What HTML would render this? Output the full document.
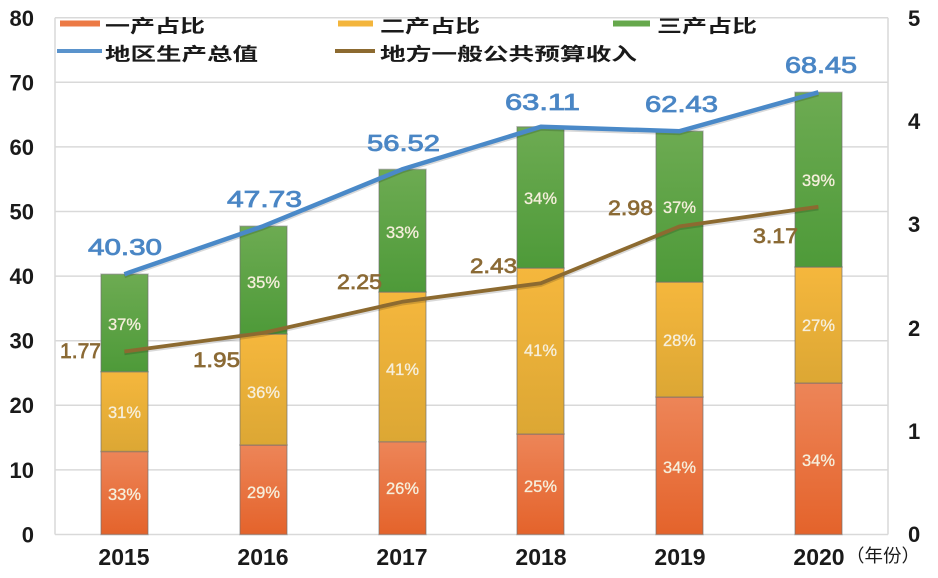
<!DOCTYPE html>
<html>
<head>
<meta charset="utf-8">
<style>
html,body{margin:0;padding:0;background:#fff;}
svg{display:block;}
</style>
</head>
<body>
<svg width="938" height="578" viewBox="0 0 938 578" xmlns="http://www.w3.org/2000/svg">
<defs>
<linearGradient id="gO" x1="0" y1="0" x2="0" y2="1">
<stop offset="0" stop-color="#ed8558"/><stop offset="1" stop-color="#e4632b"/>
</linearGradient>
<linearGradient id="gY" x1="0" y1="0" x2="0" y2="1">
<stop offset="0" stop-color="#f5b73d"/><stop offset="1" stop-color="#dca734"/>
</linearGradient>
<linearGradient id="gG" x1="0" y1="0" x2="0" y2="1">
<stop offset="0" stop-color="#6dab52"/><stop offset="1" stop-color="#4e9a39"/>
</linearGradient>
</defs>

<!-- gridlines -->
<g stroke="#d9d9d9" stroke-width="1.5">
<line x1="55" y1="17.7" x2="888" y2="17.7"/>
<line x1="55" y1="82.3" x2="888" y2="82.3"/>
<line x1="55" y1="146.9" x2="888" y2="146.9"/>
<line x1="55" y1="211.5" x2="888" y2="211.5"/>
<line x1="55" y1="276.1" x2="888" y2="276.1"/>
<line x1="55" y1="340.7" x2="888" y2="340.7"/>
<line x1="55" y1="405.3" x2="888" y2="405.3"/>
<line x1="55" y1="469.9" x2="888" y2="469.9"/>
<line x1="55" y1="534.5" x2="888" y2="534.5"/>
<line x1="55" y1="17.7" x2="55" y2="534.5"/>
<line x1="888" y1="17.7" x2="888" y2="534.5"/>
</g>

<!-- legend -->
<g font-family="'Liberation Sans','Noto Sans CJK SC',sans-serif" font-weight="bold" font-size="18" fill="#1a1a1a">
<rect x="60" y="20.5" width="40" height="6" fill="#ec7a45"/>
<text x="105" y="32.5" textLength="100" lengthAdjust="spacingAndGlyphs">一产占比</text>
<rect x="338" y="20.5" width="35" height="6" fill="#f3b53c"/>
<text x="380" y="32.5" textLength="100" lengthAdjust="spacingAndGlyphs">二产占比</text>
<rect x="613" y="20.5" width="37" height="6" fill="#66a84c"/>
<text x="657" y="32.5" textLength="100" lengthAdjust="spacingAndGlyphs">三产占比</text>
<line x1="57" y1="51" x2="102" y2="51" stroke="#5a93cc" stroke-width="4"/>
<text x="105" y="60.5" textLength="153" lengthAdjust="spacingAndGlyphs">地区生产总值</text>
<line x1="335" y1="51" x2="375" y2="51" stroke="#8c6a30" stroke-width="4"/>
<text x="380" y="60.5" textLength="257" lengthAdjust="spacingAndGlyphs">地方一般公共预算收入</text>
</g>

<!-- bars -->
<g stroke="rgba(110,110,110,0.45)" stroke-width="1.5">
<rect x="101" y="451.5" width="47" height="83" fill="url(#gO)"/>
<rect x="101" y="371.7" width="47" height="79.8" fill="url(#gY)"/>
<rect x="101" y="274.2" width="47" height="97.5" fill="url(#gG)"/>
<rect x="240" y="445" width="47" height="89.5" fill="url(#gO)"/>
<rect x="240" y="334" width="47" height="111" fill="url(#gY)"/>
<rect x="240" y="226.2" width="47" height="107.8" fill="url(#gG)"/>
<rect x="379" y="441.7" width="47" height="92.8" fill="url(#gO)"/>
<rect x="379" y="292" width="47" height="149.7" fill="url(#gY)"/>
<rect x="379" y="169.4" width="47" height="122.6" fill="url(#gG)"/>
<rect x="517" y="434" width="47" height="100.5" fill="url(#gO)"/>
<rect x="517" y="268" width="47" height="166" fill="url(#gY)"/>
<rect x="517" y="126.8" width="47" height="141.2" fill="url(#gG)"/>
<rect x="656" y="397" width="47" height="137.5" fill="url(#gO)"/>
<rect x="656" y="282" width="47" height="115" fill="url(#gY)"/>
<rect x="656" y="131.2" width="47" height="150.8" fill="url(#gG)"/>
<rect x="795" y="383" width="47" height="151.5" fill="url(#gO)"/>
<rect x="795" y="267" width="47" height="116" fill="url(#gY)"/>
<rect x="795" y="92.3" width="47" height="174.7" fill="url(#gG)"/>
</g>

<!-- percentage labels -->
<g font-family="'Liberation Sans',sans-serif" font-size="16.5" fill="#f6efdc" stroke="#f6efdc" stroke-width="0.3" text-anchor="middle">
<text x="124.5" y="500">33%</text><text x="124.5" y="418">31%</text><text x="124.5" y="330">37%</text>
<text x="263.5" y="498">29%</text><text x="263.5" y="398">36%</text><text x="263.5" y="288">35%</text>
<text x="402.5" y="494">26%</text><text x="402.5" y="375">41%</text><text x="402.5" y="238">33%</text>
<text x="540.5" y="492">25%</text><text x="540.5" y="356">41%</text><text x="540.5" y="204">34%</text>
<text x="679.5" y="473">34%</text><text x="679.5" y="346">28%</text><text x="679.5" y="213">37%</text>
<text x="818.5" y="466">34%</text><text x="818.5" y="331">27%</text><text x="818.5" y="186">39%</text>
</g>

<!-- line shadows -->
<polyline points="124.4,276.2 263.2,228.2 402,171.4 540.8,128.8 679.6,133.2 818.4,94.3" fill="none" stroke="rgba(0,0,0,0.15)" stroke-width="4"/>
<polyline points="124.4,353.5 263.2,334.9 402,303.8 540.8,285.2 679.6,228.4 818.4,208.7" fill="none" stroke="rgba(0,0,0,0.15)" stroke-width="3.5"/>
<!-- lines -->
<polyline points="124.4,274.2 263.2,226.2 402,169.4 540.8,126.8 679.6,131.2 818.4,92.3" fill="none" stroke="#4a89c8" stroke-width="4.5" stroke-linejoin="round"/>
<polyline points="124.4,351.5 263.2,332.9 402,301.8 540.8,283.2 679.6,226.4 818.4,206.7" fill="none" stroke="#8c6a30" stroke-width="3.8" stroke-linejoin="round"/>

<!-- blue value labels -->
<g font-family="'Liberation Sans',sans-serif" font-size="23" fill="#4a86c5" stroke="#4a86c5" stroke-width="0.8">
<text x="88" y="255" textLength="74" lengthAdjust="spacingAndGlyphs">40.30</text>
<text x="227" y="207" textLength="75" lengthAdjust="spacingAndGlyphs">47.73</text>
<text x="367" y="151" textLength="73" lengthAdjust="spacingAndGlyphs">56.52</text>
<text x="505" y="110" textLength="75" lengthAdjust="spacingAndGlyphs">63.11</text>
<text x="645" y="112" textLength="73" lengthAdjust="spacingAndGlyphs">62.43</text>
<text x="785" y="73" textLength="72" lengthAdjust="spacingAndGlyphs">68.45</text>
</g>

<!-- brown value labels -->
<g font-family="'Liberation Sans',sans-serif" font-size="21" fill="#8b6a35" stroke="#8b6a35" stroke-width="0.7">
<text x="60" y="358" textLength="41" lengthAdjust="spacingAndGlyphs">1.77</text>
<text x="193" y="367" textLength="47" lengthAdjust="spacingAndGlyphs">1.95</text>
<text x="337" y="289" textLength="45" lengthAdjust="spacingAndGlyphs">2.25</text>
<text x="470" y="273" textLength="47" lengthAdjust="spacingAndGlyphs">2.43</text>
<text x="608" y="215" textLength="45" lengthAdjust="spacingAndGlyphs">2.98</text>
<text x="753" y="243" textLength="45" lengthAdjust="spacingAndGlyphs">3.17</text>
</g>

<!-- left axis labels -->
<g font-family="'Liberation Sans',sans-serif" font-weight="bold" font-size="22" fill="#1a1a1a" text-anchor="end">
<text x="34" y="26">80</text>
<text x="34" y="90.5">70</text>
<text x="34" y="155">60</text>
<text x="34" y="219.5">50</text>
<text x="34" y="284">40</text>
<text x="34" y="348.5">30</text>
<text x="34" y="413">20</text>
<text x="34" y="478">10</text>
<text x="34" y="542.5">0</text>
</g>

<!-- right axis labels -->
<g font-family="'Liberation Sans',sans-serif" font-weight="bold" font-size="22" fill="#1a1a1a">
<text x="908" y="26">5</text>
<text x="908" y="129">4</text>
<text x="908" y="232">3</text>
<text x="908" y="336">2</text>
<text x="908" y="439">1</text>
<text x="908" y="542">0</text>
</g>

<!-- x axis labels -->
<g font-family="'Liberation Sans',sans-serif" font-weight="bold" font-size="23" fill="#1a1a1a" text-anchor="middle">
<text x="124" y="565">2015</text>
<text x="263" y="565">2016</text>
<text x="402" y="565">2017</text>
<text x="541" y="565">2018</text>
<text x="680" y="565">2019</text>
<text x="819" y="565">2020</text>
</g>
<text x="846" y="562" font-family="'Liberation Sans','Noto Sans CJK SC',sans-serif" font-size="18" fill="#1a1a1a" textLength="74" lengthAdjust="spacingAndGlyphs">（年份）</text>
</svg>
</body>
</html>
